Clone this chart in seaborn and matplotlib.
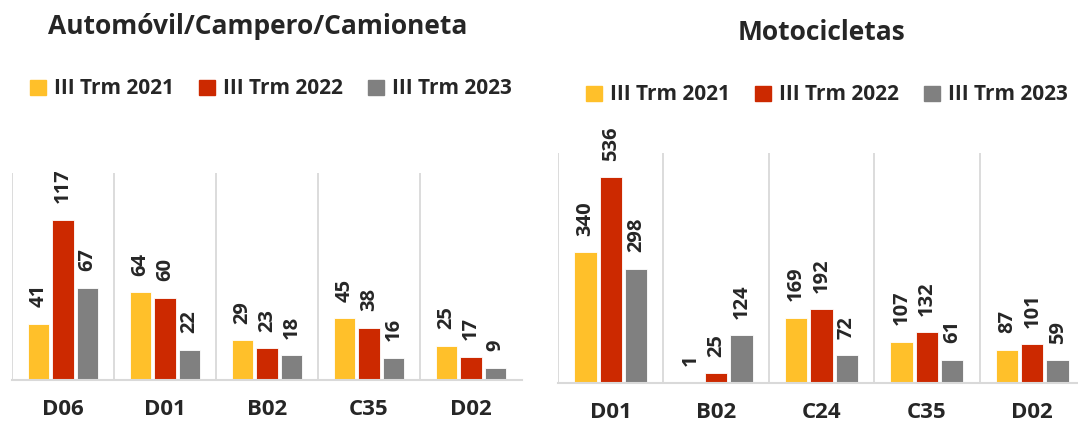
import matplotlib
matplotlib.use("Agg")
import matplotlib.pyplot as plt
import seaborn as sns
import pandas as pd
import numpy as np

# data
series = ["III Trm 2021", "III Trm 2022", "III Trm 2023"]
colors = ["#FFC02A", "#CC2900", "#808080"]

auto_cats = ["D06", "D01", "B02", "C35", "D02"]
auto_2021 = [41, 64, 29, 45, 25]
auto_2022 = [117, 60, 23, 38, 17]
auto_2023 = [67, 22, 18, 16, 9]

moto_cats = ["D01", "B02", "C24", "C35", "D02"]
moto_2021 = [340, 1, 169, 107, 87]
moto_2022 = [536, 25, 192, 132, 101]
moto_2023 = [298, 124, 72, 61, 59]

sns.set_style("white")
plt.rcParams['font.family'] = ['Open Sans', 'DejaVu Sans']
plt.rcParams['font.weight'] = 'bold'


def long_df(cats, a, b, c):
    rows = []
    for s, vals in zip(series, [a, b, c]):
        for cat, v in zip(cats, vals):
            rows.append({"cat": cat, "serie": s, "val": v})
    return pd.DataFrame(rows)


def draw(ax, df, cats, ymax):
    sns.barplot(data=df, x="cat", y="val", hue="serie", order=cats,
                hue_order=series, palette=colors, saturation=1,
                width=0.72, gap=0.12, edgecolor="white", linewidth=0.6,
                ax=ax, legend=False)
    for cont in ax.containers:
        ax.bar_label(cont, rotation=90, padding=12, fontsize=14.5,
                     fontweight="bold", clip_on=False)
    ax.set_ylim(0, ymax)
    ax.set_xlim(-0.5, len(cats) - 0.5)
    ax.set_xlabel("")
    ax.set_ylabel("")
    ax.set_yticks([])
    ax.set_xticks(np.arange(len(cats)) - 0.5, minor=True)
    ax.grid(True, which="minor", axis="x", color="#D9D9D9", lw=1.3)
    ax.tick_params(axis="x", which="both", length=0, pad=14, labelsize=16)
    for lbl in ax.get_xticklabels():
        lbl.set_fontweight("bold")
    for sp in ["top", "right", "left"]:
        ax.spines[sp].set_visible(False)
    ax.spines["bottom"].set_color("#D9D9D9")
    ax.spines["bottom"].set_linewidth(1.5)


fig = plt.figure(figsize=(10.78, 4.29), dpi=100)
W, H = 1078, 429
ax1 = fig.add_axes([12 / W, (H - 380) / H, 510 / W, 207 / H])
ax2 = fig.add_axes([558 / W, (H - 383) / H, 527 / W, 230 / H])

draw(ax1, long_df(auto_cats, auto_2021, auto_2022, auto_2023), auto_cats, 151)
draw(ax2, long_df(moto_cats, moto_2021, moto_2022, moto_2023), moto_cats, 599)

fig.text(258 / W, 1 - 27 / H, "Automóvil/Campero/Camioneta", ha="center",
         va="center", fontsize=19, fontweight="bold")
fig.text(822 / W, 1 - 32 / H, "Motocicletas", ha="center", va="center",
         fontsize=19, fontweight="bold")

handles = [plt.Rectangle((0, 0), 1, 1, color=c) for c in colors]
for cx, cy in [(271, 89), (827, 95)]:
    fig.legend(handles, series, loc="center", ncol=3, frameon=False,
               bbox_to_anchor=(cx / W, 1 - cy / H),
               handlelength=0.75, handleheight=0.75, handletextpad=0.4,
               columnspacing=1.2, prop={"weight": "bold", "size": 15})

fig.savefig("out.png", dpi=100)
